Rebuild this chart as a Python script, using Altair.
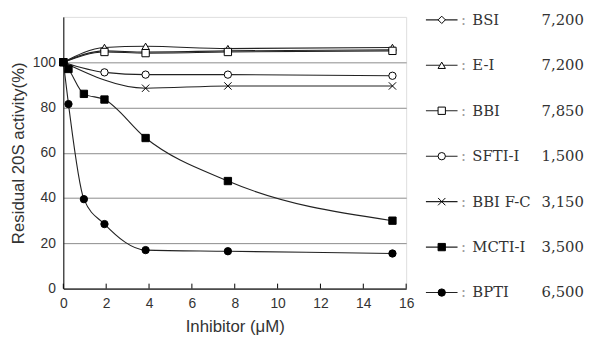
import altair as alt
import pandas as pd

# ---- data ----
series_names = ["BSI", "E-I", "BBI", "SFTI-I", "BBI F-C", "MCTI-I", "BPTI"]
mol_weights = ["7,200", "7,200", "7,850", "1,500", "3,150", "3,500", "6,500"]

conc_common = [0, 1.92, 3.84, 7.68, 15.36]
conc_fc = [0, 3.84, 7.68, 15.36]
conc_full = [0, 0.24, 0.96, 1.92, 3.84, 7.68, 15.36]

bsi = [100, 105, 104.5, 105, 105.5]
ei = [100, 106.5, 107, 106, 106.5]
bbi = [100, 104.5, 104, 104.5, 105]
sfti = [100, 95.5, 94.5, 94.5, 94]
bbifc = [100, 88.5, 89.5, 89.5]
mcti = [100, 97, 86, 83.5, 66.5, 47.5, 30]
bpti = [100, 81.5, 39.5, 28.5, 17, 16.5, 15.5]

x_ticks = [0, 2, 4, 6, 8, 10, 12, 14, 16]
y_ticks = [0, 20, 40, 60, 80, 100]

# ---- styles ----
shapes = ["diamond", "triangle-up", "square", "circle",
          "M-1,-1L1,1M-1,1L1,-1", "square", "circle"]
fills = ["white", "white", "white", "white", "white", "black", "black"]
sizes = [55, 55, 50, 60, 45, 110, 75]

rows = []
for name, xs, ys in [("BSI", conc_common, bsi), ("E-I", conc_common, ei),
                     ("BBI", conc_common, bbi), ("SFTI-I", conc_common, sfti),
                     ("BBI F-C", conc_fc, bbifc), ("BPTI", conc_full, bpti),
                     ("MCTI-I", conc_full, mcti)]:
    for xv, yv in zip(xs, ys):
        rows.append({"series": name, "conc": xv, "activity": yv})
df = pd.DataFrame(rows)

shape_scale = alt.Scale(domain=series_names, range=shapes)
fill_scale = alt.Scale(domain=series_names, range=fills)
size_scale = alt.Scale(domain=series_names, range=sizes)

AX_FONT = "Liberation Sans"
TXT = "#333333"

x_enc = alt.X("conc:Q", scale=alt.Scale(domain=[0, 16], nice=False, zero=False),
              axis=alt.Axis(values=x_ticks, title="Inhibitor (μM)", grid=False,
                            ticks=False, labelPadding=8, titlePadding=8,
                            labelFlush=False,
                            domainColor="black", domainWidth=1,
                            labelFont=AX_FONT, titleFont=AX_FONT,
                            labelFontSize=14, titleFontSize=17,
                            labelColor=TXT, titleColor=TXT,
                            titleFontWeight="normal"))
y_enc = alt.Y("activity:Q", scale=alt.Scale(domain=[0, 120], nice=False),
              axis=alt.Axis(values=y_ticks, title="Residual 20S activity(%)",
                            grid=True, gridColor="#8a8a8a", gridWidth=1,
                            ticks=False, labelPadding=8, titlePadding=5,
                            labelFlush=False,
                            domainColor="black", domainWidth=1,
                            labelFont=AX_FONT, titleFont=AX_FONT,
                            labelFontSize=14, titleFontSize=17,
                            labelColor=TXT, titleColor=TXT,
                            titleFontWeight="normal"))

base = alt.Chart(df)
lines = base.mark_line(interpolate="monotone", color="#222222", strokeWidth=1.1).encode(
    x=x_enc, y=y_enc, detail="series:N", order="conc:Q")
points = base.mark_point(strokeWidth=1, opacity=1).encode(
    x=x_enc, y=y_enc,
    shape=alt.Shape("series:N", scale=shape_scale, legend=None),
    fill=alt.Fill("series:N", scale=fill_scale, legend=None),
    size=alt.Size("series:N", scale=size_scale, legend=None),
    stroke=alt.value("black"))
tick_marks = alt.Chart(pd.DataFrame({"t": x_ticks})).mark_rule(color="black").encode(
    x=alt.X("t:Q"), y=alt.value(275), y2=alt.value(270))

main = alt.layer(lines, tick_marks, points).properties(width=347, height=275)

# ---- legend panel ----
leg_df = pd.DataFrame({"series": series_names, "mw": mol_weights,
                       "idx": list(range(len(series_names)))})
ly = alt.Y("idx:Q", scale=alt.Scale(domain=[-0.065, 5.913], reverse=True,
                                     nice=False, zero=False), axis=None)
lbase = alt.Chart(leg_df)
LFONT = "DejaVu Serif"
l_rule = lbase.mark_rule(color="#222222", strokeWidth=1.1).encode(
    x=alt.value(0), x2=alt.value(32), y=ly)
l_sym = lbase.mark_point(strokeWidth=1, opacity=1).encode(
    x=alt.value(16), y=ly,
    shape=alt.Shape("series:N", scale=shape_scale, legend=None),
    fill=alt.Fill("series:N", scale=fill_scale, legend=None),
    size=alt.Size("series:N", scale=size_scale, legend=None),
    stroke=alt.value("black"))
l_colon = lbase.mark_text(text=":", font=LFONT, fontSize=15, color="#999999").encode(
    x=alt.value(38), y=ly)
l_name = lbase.mark_text(align="left", font=LFONT, fontSize=15, color=TXT).encode(
    x=alt.value(47), y=ly, text="series:N")
l_mw = lbase.mark_text(align="left", font=LFONT, fontSize=15, color=TXT).encode(
    x=alt.value(117), y=ly, text="mw:N")
legend = alt.layer(l_rule, l_sym, l_colon, l_name, l_mw).properties(
    width=160, height=275, view=alt.ViewBackground(stroke=None))

chart = alt.hconcat(main, legend, spacing=20, bounds="flush").properties(
    padding={"left": 1, "top": 2, "right": 0, "bottom": 0}
).configure_view(stroke="#8a8a8a").configure(background="white")

chart.save("out.html", embed_options={"renderer": "svg", "actions": False})
